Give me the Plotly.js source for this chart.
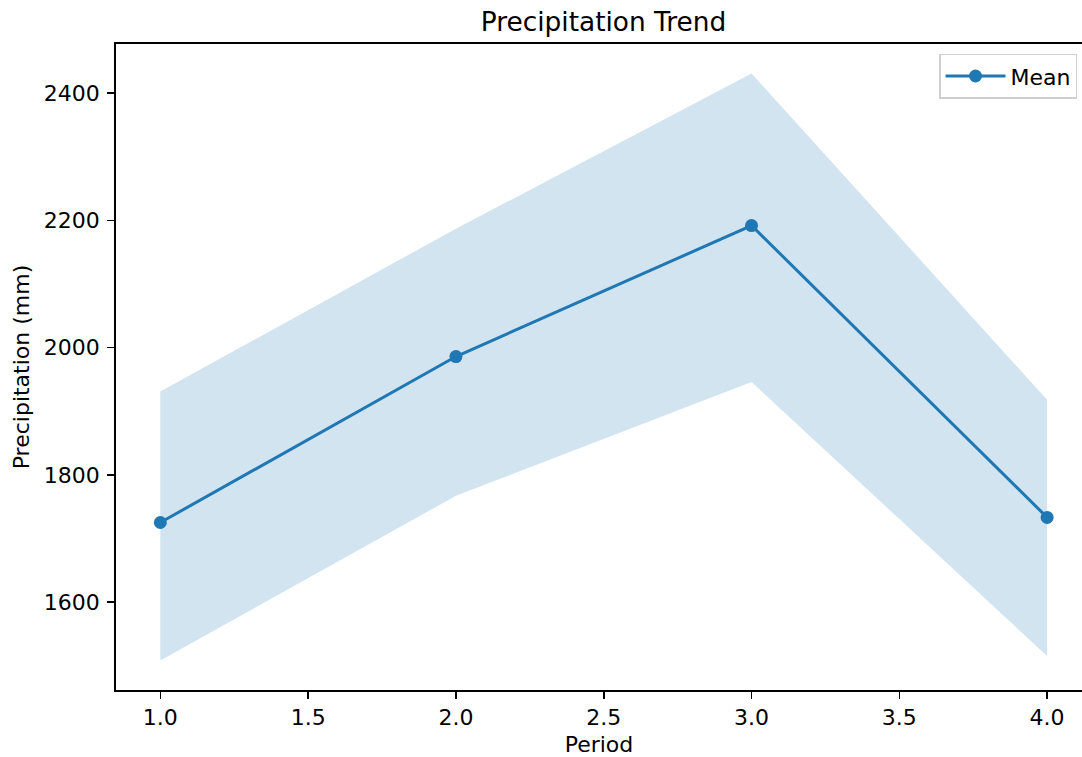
<!DOCTYPE html>
<html>
<head>
<meta charset="utf-8">
<script src="https://cdn.plot.ly/plotly-3.0.1.min.js"></script>
<style>html,body{margin:0;padding:0;background:#fff;}#chart{width:1082px;height:757px;}</style>
</head>
<body>
<div id="chart"></div>
<script>
const periods = [1, 2, 3, 4];
const meanValues = [1725, 1986, 2192, 1733];
const upperValues = [1931, 2187, 2431, 1918];
const lowerValues = [1508, 1767, 1946, 1515];
const xTicks = [1.0, 1.5, 2.0, 2.5, 3.0, 3.5, 4.0];
const xTickText = ["1.0", "1.5", "2.0", "2.5", "3.0", "3.5", "4.0"];
const yTicks = [1600, 1800, 2000, 2200, 2400];

const C0 = '#1f77b4';
const font = {family: 'DejaVu Sans, sans-serif', size: 22, color: '#000'};

const traces = [
  {x: periods, y: upperValues, mode: 'lines', line: {width: 0, color: 'rgba(0,0,0,0)'}, showlegend: false, hoverinfo: 'skip'},
  {x: periods, y: lowerValues, mode: 'lines', line: {width: 0, color: 'rgba(0,0,0,0)'}, fill: 'tonexty', fillcolor: 'rgba(31,119,180,0.2)', showlegend: false, hoverinfo: 'skip'},
  {x: periods, y: meanValues, mode: 'lines+markers', name: 'Mean', line: {color: C0, width: 3}, marker: {color: C0, size: 13}}
];

const layout = {
  width: 1082, height: 757,
  margin: {l: 116, r: 0, t: 44, b: 67, pad: 0},
  paper_bgcolor: '#fff', plot_bgcolor: '#fff',
  font: font,
  title: {text: 'Precipitation Trend', font: {family: font.family, size: 26.4, color: '#000'}, xref: 'paper', x: 0.5047, xanchor: 'center', yref: 'container', y: 0.971, yanchor: 'middle'},
  xaxis: {
    range: [0.85, 4.118], tickvals: xTicks, ticktext: xTickText,
    showgrid: false, zeroline: false, showline: true, linecolor: '#000', linewidth: 1.8, mirror: true,
    ticks: 'outside', ticklen: 7, tickwidth: 1.6, tickcolor: '#000',
    tickfont: font,
    title: {text: 'Period', font: font, standoff: 9}
  },
  yaxis: {
    range: [1461.6, 2477.5], tickvals: yTicks,
    showgrid: false, zeroline: false, showline: true, linecolor: '#000', linewidth: 1.8,
    ticks: 'outside', ticklen: 7, tickwidth: 1.6, tickcolor: '#000',
    ticklabelstandoff: 3,
    tickfont: font,
    title: {text: 'Precipitation (mm)', font: font, standoff: 8}
  },
  legend: {
    x: 0.852, y: 0.985, xanchor: 'left', yanchor: 'top',
    itemwidth: 60,
    bordercolor: '#d0d0d0', borderwidth: 1.5, bgcolor: 'rgba(255,255,255,0.8)',
    font: {family: font.family, size: 22, color: '#000'}
  },
  showlegend: true
};

Plotly.newPlot('chart', traces, layout, {displayModeBar: false, staticPlot: true});
</script>
</body>
</html>
